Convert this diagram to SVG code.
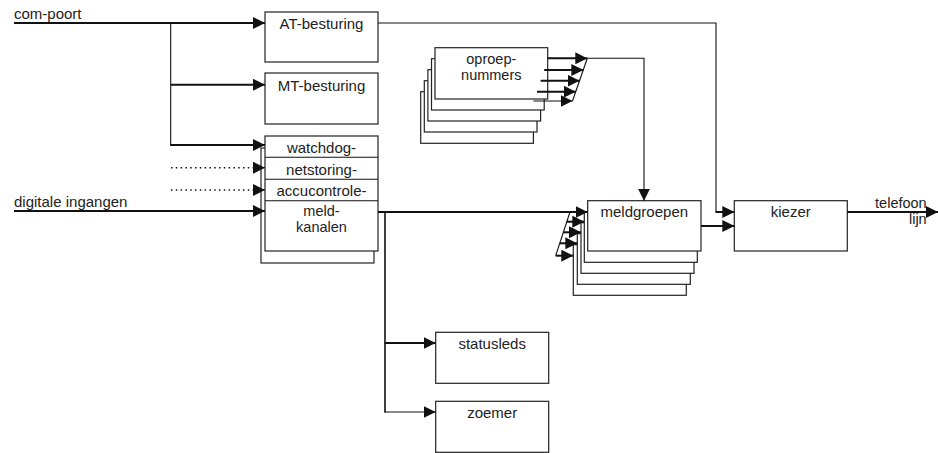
<svg xmlns="http://www.w3.org/2000/svg" width="938" height="453" viewBox="0 0 938 453">
<defs>
<marker id="ah" markerUnits="userSpaceOnUse" markerWidth="12" markerHeight="12" viewBox="0 0 12 12" refX="12" refY="6" orient="auto"><path d="M0,0 L12,6 L0,12 z" fill="#111"/></marker>
</defs>
<style>
.box{fill:#fff;stroke:#222;stroke-width:1.2}
.t{font-family:"Liberation Sans",Arial,sans-serif;font-size:15px;fill:#222}
.s{font-size:14.5px}
.c{text-anchor:middle}
.thick{fill:none;stroke:#111;stroke-width:2}
.thin{fill:none;stroke:#111;stroke-width:1.1}
.dot{fill:none;stroke:#111;stroke-width:1.5;stroke-dasharray:1.5 3.3}
</style>
<rect width="938" height="453" fill="#fff"/>

<g id="AT-besturing">
<rect class="box" x="265" y="12" width="113" height="50"/>
<text class="t c" x="321.5" y="29">AT-besturing</text>
</g>
<g id="MT-besturing">
<rect class="box" x="265" y="73" width="113" height="51"/>
<text class="t c" x="321.5" y="91">MT-besturing</text>
</g>
<g id="meldkanalen">
<rect class="box" x="261" y="148" width="113" height="115"/>
<rect class="box" x="265" y="136" width="113" height="115"/>
<line class="thin" x1="265" y1="157.3" x2="378" y2="157.3"/>
<line class="thin" x1="265" y1="179.3" x2="378" y2="179.3"/>
<line class="thin" x1="265" y1="200.7" x2="378" y2="200.7"/>
<text class="t c" x="321.5" y="152.5">watchdog-</text>
<text class="t c" x="321.5" y="174.5">netstoring-</text>
<text class="t c" x="321.5" y="195.5">accucontrole-</text>
<text class="t c s" x="321.5" y="216">meld-</text>
<text class="t c s" x="321.5" y="231.5">kanalen</text>
</g>
<g id="oproepnummers">
<rect class="box" x="420.7" y="91.7" width="112.7" height="51.6"/>
<rect class="box" x="424.3" y="80.7" width="112.7" height="51.3"/>
<rect class="box" x="427.9" y="69.7" width="112.7" height="51.3"/>
<rect class="box" x="431.5" y="58.7" width="112.7" height="51.3"/>
<rect class="box" x="435" y="47.7" width="112.7" height="51.3"/>
<text class="t c s" x="491.3" y="64">oproep-</text>
<text class="t c s" x="491.3" y="80">nummers</text>
</g>
<g id="meldgroepen">
<rect class="box" x="573.3" y="244.7" width="113" height="50.6"/>
<rect class="box" x="577.3" y="233.7" width="113" height="50.6"/>
<rect class="box" x="581" y="222.7" width="113" height="50.6"/>
<rect class="box" x="584.3" y="211.7" width="113" height="50.6"/>
<rect class="box" x="587.7" y="200.7" width="113.3" height="50.3"/>
<text class="t c" x="644.3" y="217">meldgroepen</text>
</g>
<g id="kiezer">
<rect class="box" x="734.3" y="200.7" width="113" height="50.3"/>
<text class="t c" x="790.8" y="217">kiezer</text>
</g>
<g id="statusleds">
<rect class="box" x="435.7" y="332.3" width="113" height="51"/>
<text class="t c" x="492.2" y="348.5">statusleds</text>
</g>
<g id="zoemer">
<rect class="box" x="435.7" y="401.3" width="113" height="51"/>
<text class="t c" x="492.2" y="418">zoemer</text>
</g>

<g id="labels">
<text class="t" x="14" y="19">com-poort</text>
<text class="t" x="14" y="207">digitale ingangen</text>
<text class="t s" x="926.7" y="207.5" text-anchor="end">telefoon</text>
<text class="t s" x="926.7" y="224" text-anchor="end">lijn</text>
</g>

<g id="connectors">
<line class="thick" x1="14" y1="23" x2="265" y2="23" marker-end="url(#ah)"/>
<line class="thin" x1="170.7" y1="23" x2="170.7" y2="145"/>
<line class="thick" x1="170.7" y1="84.7" x2="265" y2="84.7" marker-end="url(#ah)"/>
<line class="thick" x1="170.2" y1="145" x2="265" y2="145" marker-end="url(#ah)"/>
<line class="dot" x1="171" y1="167.7" x2="256" y2="167.7"/>
<line class="thin" x1="256" y1="167.7" x2="265" y2="167.7" marker-end="url(#ah)"/>
<line class="dot" x1="171" y1="190" x2="256" y2="190"/>
<line class="thin" x1="256" y1="190" x2="265" y2="190" marker-end="url(#ah)"/>
<line class="thick" x1="14" y1="211" x2="265" y2="211" marker-end="url(#ah)"/>

<line class="thick" x1="378" y1="212" x2="587.7" y2="212" marker-end="url(#ah)"/>
<line class="thick" x1="385" y1="211" x2="385" y2="412.5" style="stroke-width:1.6"/>
<line class="thick" x1="384.5" y1="343" x2="435.7" y2="343" marker-end="url(#ah)"/>
<line class="thin" x1="384.5" y1="412" x2="435.7" y2="412" marker-end="url(#ah)"/>

<polyline class="thin" points="378,23 716,23 716,212"/>
<line class="thick" x1="715.5" y1="212" x2="734.3" y2="212" marker-end="url(#ah)"/>
<line class="thick" x1="701" y1="226" x2="734.3" y2="226" marker-end="url(#ah)"/>
<line class="thick" x1="847.3" y1="212" x2="938" y2="212" marker-end="url(#ah)"/>

<line class="thick" x1="547.7" y1="58.3" x2="587.3" y2="58.3" marker-end="url(#ah)"/>
<line class="thick" x1="544.2" y1="70" x2="583.3" y2="70" marker-end="url(#ah)"/>
<line class="thick" x1="540.6" y1="80.7" x2="579.6" y2="80.7" marker-end="url(#ah)"/>
<line class="thick" x1="537" y1="91.7" x2="575.8" y2="91.7" marker-end="url(#ah)"/>
<line class="thin" x1="533.4" y1="101" x2="572.5" y2="101" marker-end="url(#ah)"/>
<line class="thin" x1="587.3" y1="58.3" x2="572.5" y2="101"/>
<polyline class="thin" points="587.3,58.3 644,58.3 644,200.7" marker-end="url(#ah)"/>

<line class="thin" x1="570" y1="212" x2="555.7" y2="255.7"/>
<line class="thick" x1="566.8" y1="221.7" x2="584.3" y2="221.7" marker-end="url(#ah)"/>
<line class="thick" x1="563.4" y1="232.3" x2="581" y2="232.3" marker-end="url(#ah)"/>
<line class="thick" x1="559.8" y1="243.3" x2="577.3" y2="243.3" marker-end="url(#ah)"/>
<line class="thick" x1="555.7" y1="255.7" x2="573.3" y2="255.7" marker-end="url(#ah)"/>
</g>
</svg>
